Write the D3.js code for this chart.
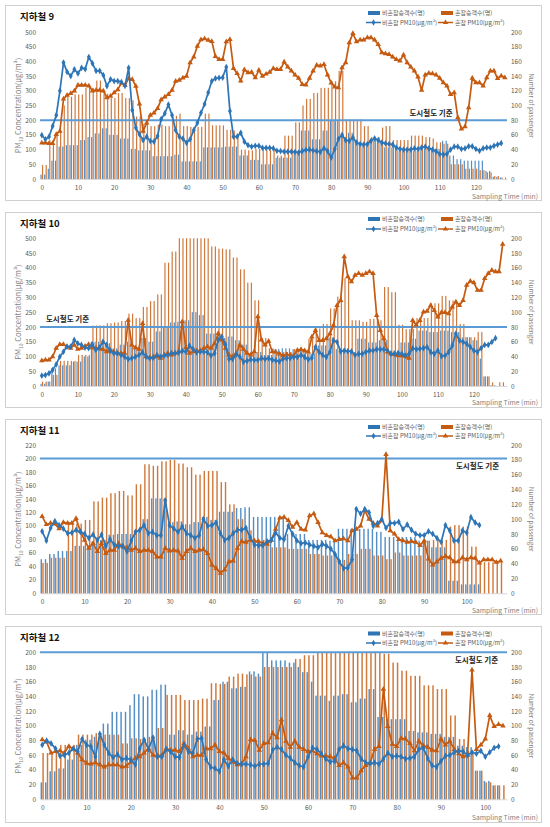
<!DOCTYPE html>
<html><head><meta charset="utf-8">
<script src="https://cdn.jsdelivr.net/npm/d3@7"></script>
<style>
body{margin:0;background:#fff;}
svg{display:block;}
text{font-family:"Noto Sans CJK KR","Noto Sans",sans-serif;}
</style>
</head><body>
<svg id="c" width="550" height="827"></svg>
<script>
// ---------- tick labels ----------
const ticks500 = [0,50,100,150,200,250,300,350,400,450,500];
const ticks220 = [0,20,40,60,80,100,120,140,160,180,200,220];
const ticks200 = [0,20,40,60,80,100,120,140,160,180,200];
const ticksRight = [0,20,40,60,80,100,120,140,160,180,200];
const xTicks120 = [0,10,20,30,40,50,60,70,80,90,100,110,120];
const xTicks100 = [0,10,20,30,40,50,60,70,80,90,100];
const standardPM = 200;

// ---------- 지하철 9 ----------
const s9BlueBars = [6,6,14,25,25,44,44,46,46,46,46,53,53,57,57,62,62,69,69,60,60,60,55,55,55,41,41,39,39,39,39,31,31,31,31,31,31,33,33,24,24,24,24,24,24,43,43,43,43,43,43,44,44,44,44,32,32,32,26,26,26,20,20,20,20,29,29,29,29,29,38,38,66,66,66,54,54,54,66,66,79,79,79,57,57,63,63,48,48,48,48,52,52,52,52,43,43,43,43,38,38,38,38,38,38,41,41,41,41,41,41,52,52,32,32,27,27,25,25,25,25,25,25,11,11,3,3,2,0];
const s9OrangeBars = [19,19,53,53,64,64,100,112,112,115,115,115,124,124,124,134,134,116,116,110,110,117,117,110,110,107,85,85,75,75,72,72,74,74,72,72,86,86,89,72,72,71,71,71,71,89,89,73,73,73,73,67,67,66,62,40,40,39,39,41,41,42,42,40,40,32,32,59,59,59,77,77,100,109,109,117,117,124,124,124,133,133,147,147,81,81,81,81,81,72,72,57,57,57,70,72,72,53,53,53,53,53,59,59,59,59,57,57,55,50,50,48,48,20,20,20,20,14,14,14,14,12,12,9,9,4,4,2,2];
const s9BluePM = [149,135,144,180,217,300,396,364,350,373,359,378,374,415,393,368,368,353,316,339,333,333,330,317,378,234,174,152,132,144,129,127,146,204,223,253,217,166,144,137,123,135,166,191,225,255,294,333,342,344,345,381,231,144,144,157,127,115,110,113,113,106,106,106,104,96,95,93,93,93,92,90,95,99,100,97,95,92,105,95,73,102,136,150,132,130,141,124,119,117,119,130,138,132,124,121,119,117,107,102,100,100,100,104,102,107,110,104,100,94,85,83,85,100,110,110,102,104,111,111,102,96,104,107,107,113,117,122];
const s9OrangePM = [123,123,121,121,152,163,272,285,291,300,319,319,319,317,300,302,302,300,277,282,294,304,327,319,342,339,316,255,163,191,217,225,240,270,279,288,302,333,336,344,350,396,415,452,474,477,472,468,417,407,407,467,475,376,359,334,372,362,363,345,370,350,357,363,376,373,373,398,381,368,354,343,322,320,343,368,387,385,390,354,327,313,311,379,396,464,495,467,473,473,481,481,473,458,430,426,424,415,407,402,422,396,381,368,347,302,354,360,358,354,343,328,317,288,294,209,170,178,243,343,328,328,317,345,368,368,342,351,345];

// ---------- 지하철 10 ----------
const s10BlueBars = [3,3,6,24,24,28,28,28,28,33,33,33,40,40,60,60,60,60,58,58,51,51,56,56,60,60,53,53,65,65,60,60,74,74,79,79,86,86,87,87,89,89,100,100,96,96,71,71,71,71,65,65,67,67,62,62,56,56,44,44,46,46,42,42,42,50,50,51,51,51,50,50,50,50,44,44,44,55,55,55,66,66,50,50,50,46,46,46,64,64,64,59,59,59,62,62,62,48,48,48,59,59,59,64,64,75,75,75,73,73,73,75,75,75,73,73,73,66,66,66,62,62,37,13,13,1,1,0,0];
const s10OrangeBars = [6,6,6,15,15,34,34,34,34,34,42,42,42,42,82,82,82,82,85,85,86,86,88,88,98,98,92,92,107,107,115,115,124,124,167,167,182,182,200,200,200,200,200,200,200,200,200,189,189,186,186,185,185,174,174,158,158,140,140,116,116,65,65,51,51,46,46,46,46,46,50,50,50,50,64,64,78,78,84,84,105,105,121,121,146,146,89,89,89,87,87,91,91,91,89,134,134,127,127,83,83,77,77,77,92,92,92,92,112,112,112,122,122,116,116,116,84,84,66,66,66,73,73,13,13,5,0,5,5];
const s10BluePM = [35,37,43,54,73,99,116,133,133,156,144,139,130,128,141,122,130,150,139,119,111,111,105,99,91,94,99,105,114,99,94,96,105,99,103,105,111,111,113,119,116,137,125,114,116,116,114,103,111,156,167,141,91,91,107,99,82,85,90,88,88,94,91,94,88,86,83,92,94,94,98,98,105,98,90,95,132,115,105,98,115,154,149,117,120,118,117,105,109,109,115,120,120,124,124,124,120,109,109,111,109,103,109,128,124,126,128,132,115,109,120,101,103,115,137,177,154,149,143,132,120,115,128,139,139,149,162];
const s10OrangePM = [86,88,88,99,128,141,141,133,128,139,125,128,135,141,130,128,128,124,116,122,116,111,111,111,223,139,130,125,212,99,96,99,99,94,105,111,105,111,116,218,130,111,116,120,120,128,133,128,144,178,156,128,105,99,111,139,125,111,105,116,235,156,139,152,116,115,109,103,107,105,103,121,124,120,115,166,188,154,154,160,177,205,273,290,438,370,353,375,381,375,381,387,381,239,188,160,115,109,107,103,103,101,94,222,207,222,251,253,273,256,234,249,249,245,268,285,273,290,341,355,350,324,324,364,381,392,387,387,480];

// ---------- 지하철 11 ----------
const s11BlueBars = [46,46,53,53,57,57,57,57,64,64,64,64,70,70,72,72,79,79,80,80,80,80,85,85,100,100,128,128,128,128,96,96,97,97,93,93,96,96,103,103,99,99,110,110,110,110,115,115,116,116,103,103,103,103,103,103,103,103,80,80,80,80,80,72,72,72,72,72,71,71,87,87,87,87,87,87,87,87,87,83,83,76,76,76,76,76,76,76,76,71,71,71,62,62,62,62,17,17,17,12,12,12,12,12];
const s11OrangeBars = [41,41,48,48,48,48,94,94,94,94,99,99,124,124,129,129,135,135,138,138,132,132,147,147,174,174,172,172,178,178,180,180,175,175,170,170,160,160,165,165,165,165,150,150,120,120,100,100,85,85,70,70,72,72,62,62,62,62,60,60,60,60,60,53,53,53,51,51,51,51,45,45,53,53,53,60,60,60,51,51,51,46,46,55,55,51,51,51,51,51,71,71,72,72,72,72,90,92,92,90,90,63,63,42,42,42,42,42,42];
const s11BluePM = [92,78,97,107,101,96,89,90,94,91,88,82,87,79,87,70,80,72,70,70,62,78,91,94,101,89,91,86,86,138,101,96,91,99,89,86,82,86,110,100,101,105,89,79,82,89,94,94,97,83,72,71,71,77,79,90,82,80,100,88,78,74,75,72,70,68,73,70,66,58,47,37,38,50,125,118,125,120,100,104,110,97,104,104,106,95,102,94,88,86,86,92,88,82,76,101,93,78,78,93,90,113,105,101];
const s11OrangePM = [114,102,104,103,96,105,104,104,111,92,79,67,74,62,74,59,64,64,74,69,68,64,67,62,64,64,62,54,54,67,63,64,63,52,62,67,62,64,65,59,42,37,30,35,47,48,67,77,76,79,78,77,74,73,79,95,112,113,108,98,105,95,94,115,118,105,90,86,84,78,80,81,78,93,95,100,123,110,104,100,108,206,93,88,80,78,76,77,76,71,78,51,42,47,52,55,53,47,47,53,50,53,52,45,50,50,50,46,48];

// ---------- 지하철 12 ----------
const s12BlueBars = [23,23,38,38,42,42,54,54,74,74,81,81,85,85,103,103,119,119,119,119,128,143,143,140,140,149,149,156,156,88,88,94,94,88,88,92,92,99,99,135,135,160,160,151,151,153,153,174,174,171,199,199,189,189,189,189,186,186,180,173,173,160,141,141,141,134,141,141,143,143,132,132,137,137,150,150,112,112,109,109,109,109,109,93,93,91,91,91,89,89,89,85,85,85,73,73,71,71,39,39,25,25,19,19];
const s12OrangeBars = [63,63,63,63,74,74,74,74,88,88,88,88,90,90,88,88,88,88,76,76,83,83,82,82,85,85,97,97,142,142,142,142,135,135,135,135,137,137,158,158,157,157,167,167,171,171,170,170,167,167,180,180,180,180,180,180,180,191,191,196,196,196,200,200,200,200,200,200,200,200,200,200,200,200,200,200,200,198,198,186,186,175,175,168,168,168,155,155,155,150,150,150,114,114,82,82,66,66,39,39,23,23,19,19,19];
const s12BluePM = [74,80,76,69,59,60,63,69,65,82,74,72,58,89,74,63,57,61,54,56,54,47,69,81,68,84,58,58,68,65,58,57,74,65,63,82,83,54,44,42,38,54,45,54,49,48,48,47,45,48,48,49,67,71,68,60,56,50,46,44,58,70,68,62,55,51,52,68,73,69,68,66,55,50,49,50,48,55,63,58,59,58,55,56,58,68,70,56,46,44,52,59,60,64,66,65,60,64,62,66,58,64,70,72];
const s12OrangePM = [81,78,63,65,66,63,72,69,63,54,49,48,50,47,44,47,47,47,44,45,51,56,58,63,69,60,59,60,69,67,67,65,76,69,58,60,60,69,69,74,65,63,56,51,47,48,58,81,80,67,76,77,90,84,108,79,71,79,71,68,65,66,62,59,59,58,56,46,50,44,29,29,39,46,49,68,72,150,99,75,72,83,82,76,66,79,73,71,67,66,82,74,79,68,62,58,60,176,68,74,82,114,99,102,100];

// ---------- legend / labels ----------
const titles = ['지하철 9','지하철 10','지하철 11','지하철 12'];
const legendLabels = ['비혼잡승객수(명)','혼잡승객수(명)','비혼잡 PM10(μg/m³)','혼잡 PM10(μg/m³)'];
const stdLabel = '도시철도 기준';

const BLUE = '#2E75B6', ORANGE = '#C55A11', STD = '#5B9BD5';

const panels = [
  {title:titles[0], box:[5,5,541,200], titleY:19.5, top:32, bottom:179, leftMax:500, leftTicks:ticks500, xMax:128.6, xTicks:xTicks120,
   leg1:13, leg2:22.5, stdX:431, stdY:116, sampY:199,
   bb:s9BlueBars, ob:s9OrangeBars, bl:s9BluePM, ol:s9OrangePM},
  {title:titles[1], box:[5,212,541,407], titleY:226.5, top:238.3, bottom:386, leftMax:500, leftTicks:ticks500, xMax:129.2, xTicks:xTicks120,
   leg1:219, leg2:229, stdX:67.5, stdY:322, sampY:405,
   bb:s10BlueBars, ob:s10OrangeBars, bl:s10BluePM, ol:s10OrangePM},
  {title:titles[2], box:[5,419,541,614], titleY:434, top:445, bottom:593.3, leftMax:220, leftTicks:ticks220, xMax:109.5, xTicks:xTicks100,
   leg1:427, leg2:436, stdX:477.5, stdY:469, sampY:612.5,
   bb:s11BlueBars, ob:s11OrangeBars, bl:s11BluePM, ol:s11OrangePM},
  {title:titles[3], box:[5,626,541,822], titleY:640.5, top:652.3, bottom:799.3, leftMax:200, leftTicks:ticks200, xMax:104.9, xTicks:xTicks100,
   leg1:633.5, leg2:643, stdX:476.5, stdY:662.5, sampY:819.5,
   bb:s12BlueBars, ob:s12OrangeBars, bl:s12BluePM, ol:s12OrangePM}
];

const svg = d3.select('#c');
const X0 = 40, X1 = 507;

function drawPanel(p){
  const g = svg.append('g');
  g.append('rect').attr('x',p.box[0]+0.5).attr('y',p.box[1]+0.5)
    .attr('width',p.box[2]-p.box[0]).attr('height',p.box[3]-p.box[1])
    .attr('fill','#fff').attr('stroke','#d0d0d0').attr('stroke-width',1);

  const x = d3.scaleLinear().domain([-0.5,p.xMax]).range([X0,X1]);
  const yL = d3.scaleLinear().domain([0,p.leftMax]).range([p.bottom,p.top]);
  const yR = d3.scaleLinear().domain([0,200]).range([p.bottom,p.top]);
  const step = x(1)-x(0);
  const bw = step*0.33;

  g.append('text').attr('x',20).attr('y',p.titleY).text(p.title)
    .attr('font-size',9.5).attr('font-weight','bold').attr('fill','#111');

  const aL = g.append('g').attr('transform',`translate(${X0},0)`)
    .call(d3.axisLeft(yL).tickValues(p.leftTicks).tickSize(0).tickPadding(4));
  aL.select('.domain').remove();
  aL.selectAll('text').attr('font-size',6.5).attr('fill','#595959').attr('font-family','"Noto Sans CJK KR",sans-serif');

  const aR = g.append('g').attr('transform',`translate(${X1},0)`)
    .call(d3.axisRight(yR).tickValues(ticksRight).tickSize(0).tickPadding(4));
  aR.select('.domain').remove();
  aR.selectAll('text').attr('font-size',6.5).attr('fill','#595959').attr('font-family','"Noto Sans CJK KR",sans-serif');

  const aB = g.append('g').attr('transform',`translate(0,${p.bottom})`)
    .call(d3.axisBottom(x).tickValues(p.xTicks).tickFormat(d3.format('d')).tickSize(0).tickPadding(6));
  aB.select('.domain').attr('stroke','#d9d9d9');
  aB.selectAll('text').attr('font-size',6.5).attr('fill','#595959').attr('font-family','"Noto Sans CJK KR",sans-serif');

  const midY = (p.top+p.bottom)/2;
  const lt = g.append('text').attr('transform',`translate(21,${midY}) rotate(-90)`)
    .attr('text-anchor','middle').attr('font-size',7.5).attr('fill','#7f7f7f');
  lt.append('tspan').text('PM');
  lt.append('tspan').attr('font-size',5).attr('dy',2).text('10');
  lt.append('tspan').attr('dy',-2).text(' Concentration(μg/m³)');
  g.append('text').attr('transform',`translate(529,${midY}) rotate(90)`)
    .attr('text-anchor','middle').attr('font-size',6.5).attr('fill','#7f7f7f').text('Number of passenger');
  g.append('text').attr('x',538).attr('y',p.sampY).attr('text-anchor','end')
    .attr('font-size',6.8).attr('fill','#7f7f7f').text('Sampling Time (min)');

  g.append('g').selectAll('rect').data(p.bb).join('rect')
    .attr('x',(d,i)=>x(i)-bw-0.15).attr('width',bw)
    .attr('y',d=>yR(d)).attr('height',d=>p.bottom-yR(d))
    .attr('fill',BLUE).attr('fill-opacity',0.82);
  g.append('g').selectAll('rect').data(p.ob).join('rect')
    .attr('x',(d,i)=>x(i)+0.15).attr('width',bw)
    .attr('y',d=>yR(d)).attr('height',d=>p.bottom-yR(d))
    .attr('fill',ORANGE).attr('fill-opacity',0.82);

  g.append('line').attr('x1',X0).attr('x2',X1).attr('y1',yL(standardPM)).attr('y2',yL(standardPM))
    .attr('stroke',STD).attr('stroke-width',2);
  g.append('text').attr('x',p.stdX).attr('y',p.stdY).attr('text-anchor','middle')
    .attr('font-size',7.5).attr('font-weight','bold').attr('fill','#262626').text(stdLabel);

  const line = d3.line().x((d,i)=>x(i)).y(d=>yL(d));
  g.append('path').datum(p.ol).attr('d',line).attr('fill','none').attr('stroke',ORANGE).attr('stroke-width',1.7);
  g.append('g').selectAll('path').data(p.ol).join('path')
    .attr('transform',(d,i)=>`translate(${x(i)},${yL(d)})`)
    .attr('d',d3.symbol().type(d3.symbolTriangle).size(13)).attr('fill',ORANGE);
  g.append('path').datum(p.bl).attr('d',line).attr('fill','none').attr('stroke',BLUE).attr('stroke-width',1.7);
  g.append('g').selectAll('path').data(p.bl).join('path')
    .attr('transform',(d,i)=>`translate(${x(i)},${yL(d)})`)
    .attr('d',d3.symbol().type(d3.symbolDiamond).size(13)).attr('fill',BLUE);

  const lg = g.append('g').attr('font-size',6).attr('fill','#595959');
  lg.append('rect').attr('x',368).attr('y',p.leg1-2).attr('width',12).attr('height',4).attr('fill',BLUE);
  lg.append('text').attr('x',382).attr('y',p.leg1+2.2).text(legendLabels[0]);
  lg.append('rect').attr('x',441).attr('y',p.leg1-2).attr('width',12).attr('height',4).attr('fill',ORANGE);
  lg.append('text').attr('x',455).attr('y',p.leg1+2.2).text(legendLabels[1]);
  lg.append('line').attr('x1',366).attr('x2',381).attr('y1',p.leg2).attr('y2',p.leg2).attr('stroke',BLUE).attr('stroke-width',1.5);
  lg.append('path').attr('transform',`translate(373.5,${p.leg2})`).attr('d',d3.symbol().type(d3.symbolDiamond).size(12)).attr('fill',BLUE);
  lg.append('text').attr('x',382).attr('y',p.leg2+2.2).text(legendLabels[2]);
  lg.append('line').attr('x1',438).attr('x2',453).attr('y1',p.leg2).attr('y2',p.leg2).attr('stroke',ORANGE).attr('stroke-width',1.5);
  lg.append('path').attr('transform',`translate(445.5,${p.leg2})`).attr('d',d3.symbol().type(d3.symbolTriangle).size(12)).attr('fill',ORANGE);
  lg.append('text').attr('x',455).attr('y',p.leg2+2.2).text(legendLabels[3]);
}

panels.forEach(drawPanel);
</script>
</body></html>
